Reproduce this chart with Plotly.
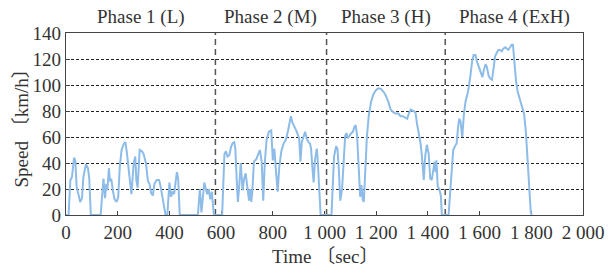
import plotly.graph_objects as go

# Time (s) and vehicle speed (km/h)
time_s = [0, 10, 17, 23, 31, 36, 41, 49, 55, 62, 67, 77, 85, 90, 96, 134, 145, 151, 156, 160,
          166, 170, 175, 182, 188, 196, 202, 208, 215, 224, 230, 236, 243, 253, 262, 268, 272,
          277, 285, 294, 300, 309, 317, 323, 329, 336, 342, 351, 360, 365, 373, 380, 385, 392,
          400, 406, 412, 418, 424, 429, 434, 440, 510, 518, 524, 535, 546, 552, 558, 564, 572,
          604, 613, 619, 625, 632, 638, 644, 651, 655, 660, 665, 670, 676, 683, 689, 695, 702,
          708, 712, 717, 721, 727, 736, 744, 750, 757, 763, 769, 776, 785, 794, 800, 806, 813,
          819, 825, 833, 842, 851, 859, 865, 870, 876, 884, 893, 902, 907, 912, 918, 925, 931,
          938, 944, 948, 953, 958, 963, 970, 973, 978, 985, 1027, 1037, 1045, 1050, 1055, 1061,
          1068, 1074, 1080, 1085, 1090, 1097, 1103, 1110, 1116, 1121, 1126, 1133, 1138, 1143,
          1148, 1152, 1158, 1164, 1171, 1180, 1189, 1199, 1208, 1218, 1228, 1237, 1247, 1256,
          1266, 1275, 1286, 1294, 1303, 1311, 1320, 1326, 1333, 1343, 1352, 1358, 1365, 1371,
          1377, 1384, 1390, 1396, 1403, 1409, 1415, 1422, 1426, 1430, 1433, 1438, 1444, 1450,
          1454, 1480, 1486, 1492, 1498, 1505, 1511, 1517, 1521, 1526, 1533, 1539, 1546, 1552,
          1558, 1565, 1571, 1577, 1584, 1590, 1598, 1605, 1611, 1617, 1623, 1628, 1635, 1641,
          1648, 1654, 1660, 1667, 1673, 1679, 1686, 1692, 1699, 1705, 1711, 1718, 1724, 1729,
          1734, 1741, 1747, 1753, 1760, 1766, 1772, 1779, 1785, 1792, 1798, 1802]
speed_kmh = [0, 0, 27, 29, 44, 42, 22, 15, 10, 13, 29, 39, 36, 28, 0, 0, 28, 13, 24, 19,
             36, 26, 28, 18, 12, 10, 14, 37, 50, 55, 56, 47, 32, 16, 40, 45, 27,
             21, 50, 49, 47, 40, 26, 24, 17, 15, 24, 27, 27, 23, 14, 7, 0, 0,
             25, 14, 18, 16, 26, 33, 28, 0, 0, 20, 2, 25, 16, 20, 12, 18, 0,
             0, 47, 49, 45, 46, 52, 55, 56, 51, 29, 10, 22, 40, 19, 28, 32, 19,
             11, 20, 10, 19, 41, 43, 47, 50, 41, 11, 40, 58, 64, 65, 42, 51, 32,
             18, 37, 49, 55, 58, 65, 73, 76, 71, 68, 64, 59, 41, 56, 59, 64, 59,
             56, 55, 51, 37, 25, 42, 51, 45, 22, 0, 0, 45, 53, 51, 37, 11,
             20, 37, 61, 63, 59, 61, 63, 64, 68, 69, 61, 34, 14, 23,
             12, 10, 34, 60, 76, 87, 93, 96, 97.5, 97, 95, 92, 87, 81,
             79, 78, 78, 76, 76, 75, 74, 78, 81, 80, 79, 70, 63, 56,
             45, 27, 46, 54, 47, 28, 27, 37, 41, 33, 42, 22, 20, 15,
             0, 0, 15, 31, 50, 53, 55, 68, 74, 72, 60, 77, 88, 92,
             98, 108, 118, 123, 123, 118, 113, 108, 106, 112, 116, 114, 107, 105,
             104, 113, 122, 125, 127, 127, 126, 128, 129, 128, 127, 129, 131, 131,
             118, 103, 95, 91, 87, 83, 78, 64, 41, 20, 2, 0]

phase_bounds = [0, 578, 1008, 1467, 2000]
phase_names = ["Phase 1 (L)", "Phase 2 (M)", "Phase 3 (H)", "Phase 4 (ExH)"]
x_tickvals = [0, 200, 400, 600, 800, 1000, 1200, 1400, 1600, 1800, 2000]
x_ticktext = ["0", "200", "400", "600", "800", "1 000", "1 200", "1 400", "1 600", "1 800", "2 000"]
y_tickvals = [0, 20, 40, 60, 80, 100, 120, 140]

FONT = "Liberation Serif, DejaVu Serif, Noto Sans CJK JP"
TXT = "#333333"

fig = go.Figure()
fig.add_trace(go.Scatter(x=time_s, y=speed_kmh, mode="lines",
                         line=dict(color="#8dbce8", width=2), showlegend=False))

for b in phase_bounds[1:-1]:
    fig.add_shape(type="line", xref="x", yref="paper", x0=b, x1=b, y0=0, y1=1,
                  line=dict(color="#555555", width=1.5, dash="6px,4px"), layer="below")

for i, name in enumerate(phase_names):
    xc = (phase_bounds[i] + phase_bounds[i + 1]) / 2
    fig.add_annotation(x=xc, xref="x", y=1.0, yref="paper", yshift=3, text=name,
                       showarrow=False, xanchor="center", yanchor="bottom",
                       font=dict(family=FONT, size=19, color=TXT))

fig.add_annotation(x=0.5, xref="paper", y=-0.23, yref="paper", text="Time 〔sec〕",
                   showarrow=False, xanchor="center", yanchor="middle",
                   font=dict(family=FONT, size=19, color=TXT))
fig.add_annotation(x=-0.088, xref="paper", y=0.5, yref="paper", text="Speed 〔km/h〕",
                   showarrow=False, xanchor="center", yanchor="middle", textangle=-90,
                   font=dict(family=FONT, size=19, color=TXT))

fig.update_layout(
    width=616, height=268,
    margin=dict(l=66, r=26, t=33, b=53),
    paper_bgcolor="white", plot_bgcolor="white",
    font=dict(family=FONT, size=19, color=TXT),
    xaxis=dict(range=[0, 2000], tickvals=x_tickvals, ticktext=x_ticktext,
               showgrid=False, zeroline=False, showline=True, mirror=True,
               linecolor="#444444", linewidth=1.2, ticks="inside", ticklen=4,
               tickcolor="#444444", layer="below traces",
               tickfont=dict(family=FONT, size=19, color=TXT)),
    yaxis=dict(range=[0, 140], tickvals=y_tickvals, showgrid=True,
               gridcolor="#222222", gridwidth=1, griddash="3px,2px",
               zeroline=False, showline=True, mirror=True,
               linecolor="#444444", linewidth=1.2, ticks="inside", ticklen=4,
               tickcolor="#444444", layer="below traces",
               tickfont=dict(family=FONT, size=19, color=TXT)),
)

fig.write_html("out.html", config={"displayModeBar": False},
               post_script="document.body.style.margin='0';")
